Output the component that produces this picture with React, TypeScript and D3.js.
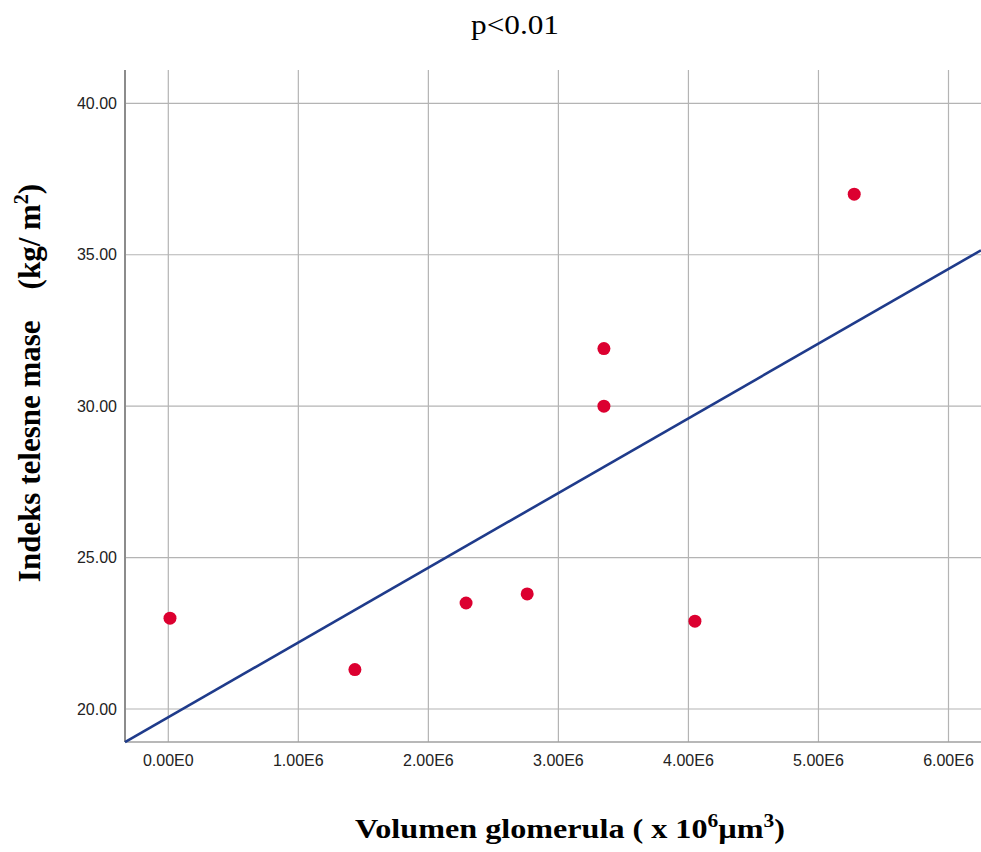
import React, {useEffect, useRef} from "react";
import * as d3 from "d3";

// glomerular volume (x 1e6 µm3) vs BMI
const volumes = [0.013e6, 1.435e6, 2.29e6, 2.76e6, 3.35e6, 3.35e6, 4.05e6, 5.275e6];
const bmi = [23.0, 21.3, 23.5, 23.8, 31.9, 30.0, 22.9, 37.0];
const xTicks = [0, 1e6, 2e6, 3e6, 4e6, 5e6, 6e6];
const xTickLabels = ["0.00E0", "1.00E6", "2.00E6", "3.00E6", "4.00E6", "5.00E6", "6.00E6"];
const yTicks = [20, 25, 30, 35, 40];

export default function App() {
  const ref = useRef<SVGSVGElement>(null);
  const width = 981;
  const height = 852;
  const left = 125, right = 981, top = 70, bottom = 742;

  useEffect(() => {
    const svg = d3.select(ref.current);
    svg.selectAll("*").remove();

    const x = d3.scaleLinear().domain([-0.333e6, 6.25e6]).range([left, right]);
    const y = d3.scaleLinear().domain([18.91, 41.1]).range([bottom, top]);

    // grid
    const grid = svg.append("g");
    grid.selectAll("line.v").data(xTicks).join("line")
      .attr("x1", d => x(d)).attr("x2", d => x(d))
      .attr("y1", top).attr("y2", bottom)
      .attr("stroke", "#b4b4b4").attr("stroke-width", 1.2);
    grid.selectAll("line.h").data(yTicks).join("line")
      .attr("class", "h")
      .attr("x1", left).attr("x2", right)
      .attr("y1", d => y(d)).attr("y2", d => y(d))
      .attr("stroke", "#b4b4b4").attr("stroke-width", 1.2);

    // axes lines
    svg.append("line").attr("x1", left).attr("x2", left).attr("y1", top).attr("y2", bottom)
      .attr("stroke", "#8c8c8c").attr("stroke-width", 2);
    svg.append("line").attr("x1", left).attr("x2", right).attr("y1", bottom).attr("y2", bottom)
      .attr("stroke", "#a0a0a0").attr("stroke-width", 1.5);

    // tick labels
    svg.append("g").selectAll("text").data(yTicks).join("text")
      .attr("x", left - 8).attr("y", d => y(d)).attr("dy", "0.35em")
      .attr("text-anchor", "end")
      .style("font-family", "Liberation Sans, Arial, sans-serif").style("font-size", "16px")
      .attr("fill", "#222").text(d => d3.format(".2f")(d));
    svg.append("g").selectAll("text").data(xTicks).join("text")
      .attr("x", d => x(d)).attr("y", 766)
      .attr("text-anchor", "middle")
      .style("font-family", "Liberation Sans, Arial, sans-serif").style("font-size", "16px")
      .attr("fill", "#222").text((d, i) => xTickLabels[i]);

    // regression line (least squares)
    const mx = d3.mean(volumes)!, my = d3.mean(bmi)!;
    const sxy = d3.sum(volumes, (v, i) => (v - mx) * (bmi[i] - my));
    const sxx = d3.sum(volumes, v => (v - mx) ** 2);
    const slope = sxy / sxx;
    const b0 = my - slope * mx;
    const [x0, x1] = x.domain();
    svg.append("path")
      .datum([x0, x1])
      .attr("d", d3.line<number>().x(d => x(d)).y(d => y(b0 + slope * d)))
      .attr("fill", "none").attr("stroke", "#1f3b8b").attr("stroke-width", 2.6);

    // points
    svg.append("g").selectAll("circle").data(volumes).join("circle")
      .attr("cx", d => x(d)).attr("cy", (d, i) => y(bmi[i]))
      .attr("r", 6.5).attr("fill", "#dc0030");
  }, []);

  const serif = "Liberation Serif, Times New Roman, serif";
  return (
    <div style={{position: "absolute", left: 0, top: 0}}>
      <svg ref={ref} width={width} height={height} style={{display: "block", position: "absolute"}}/>
      <svg width={width} height={height} style={{display: "block"}}>
        <text x={471} y={34} textLength={88} lengthAdjust="spacingAndGlyphs" style={{fontFamily: serif, fontSize: "27px"}}>p&lt;0.01</text>
        <text x={355} y={838} textLength={430} lengthAdjust="spacingAndGlyphs" style={{fontFamily: serif, fontSize: "27px", fontWeight: "bold"}}>
          Volumen glomerula ( x 10<tspan dy={-11} style={{fontSize: "18px"}}>6</tspan>
          <tspan dy={11}>µm</tspan><tspan dy={-11} style={{fontSize: "18px"}}>3</tspan><tspan dy={11}>)</tspan>
        </text>
        <text transform="translate(40,383) rotate(-90)" textAnchor="middle" style={{fontFamily: serif, fontSize: "31px", fontWeight: "bold"}}>
          Indeks telesne mase{"\u00a0\u00a0\u00a0\u00a0"}(kg/ m<tspan dy={-12} style={{fontSize: "20px"}}>2</tspan><tspan dy={12}>)</tspan>
        </text>
      </svg>
    </div>
  );
}
